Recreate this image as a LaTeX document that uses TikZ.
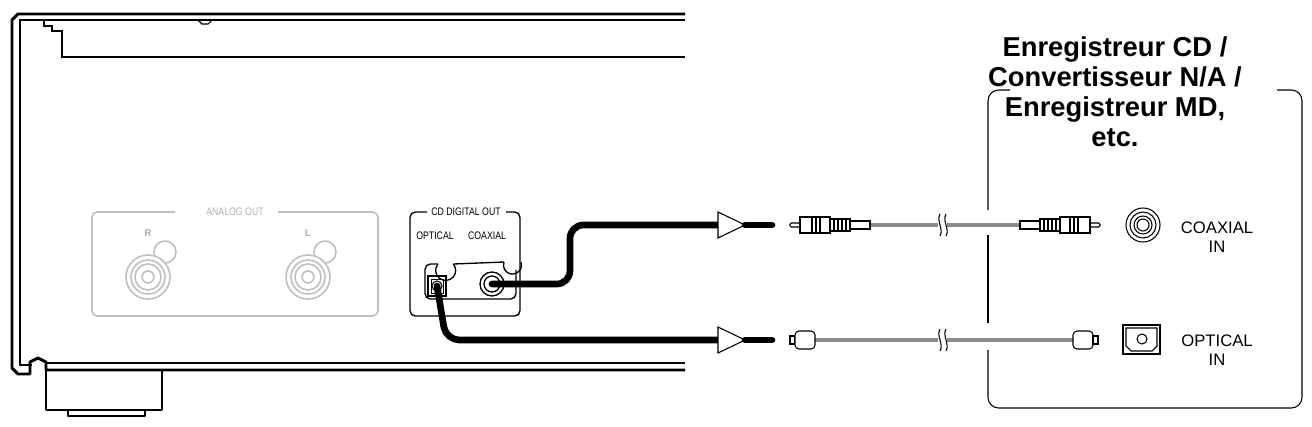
\documentclass[tikz,border=0pt]{standalone}
\usepackage{fontspec}
\setmainfont{Liberation Sans}
\newfontfamily\condf[FakeStretch=0.8]{Liberation Sans}
\begin{document}
\begin{tikzpicture}[x=0.75pt,y=-0.75pt,
  chassis/.style={line width=2.2pt,line join=round},
  thin/.style={line width=0.8pt},
  grayp/.style={draw=black!25,line width=1.2pt},
  cable/.style={line width=5pt,line cap=round,rounded corners=10pt},
  gcable/.style={draw=black!45,line width=3.6pt},
  lbl/.style={font=\fontsize{12.5}{14}\selectfont,align=center},
  plab/.style={font=\fontsize{8.2}{9}\selectfont\condf,inner sep=1pt,fill=white},
  title/.style={font=\bfseries\fontsize{20.5}{22.5}\selectfont,align=center}]
\useasboundingbox (0,0) rectangle (1312,426);
% chassis
\draw[chassis] (685,14) -- (18,14) -- (12,20) -- (12,368) -- (18,374) -- (30,374) -- (30,362) -- (38,358) -- (46,362) -- (46,370) -- (685,370);
\draw[thin] (685,20) -- (20,20) -- (20,365) -- (32,365);
\draw[line width=1pt] (685,20) -- (44,20) -- (44,26) -- (52,26) -- (52,31) -- (62,31) -- (62,57) -- (685,57);
\draw[thin] (198,20) -- (202,24) -- (208,24) -- (212,20);
\draw[line width=1.2pt] (46,363) -- (685,363);
\draw[chassis] (46,370) -- (46,410) -- (68,410) -- (68,416) -- (145,416) -- (145,410) -- (162,410) -- (162,370);
\draw[thin] (68,410) -- (145,410);
% analog out box
\draw[grayp,rounded corners=4pt] (175,212) -- (92,212) -- (92,316) -- (378,316) -- (378,212) -- (278,212);
\node[plab,text=black!30] (ana) at (235,212) {ANALOG OUT};
\node[plab,text=black!30,font=\fontsize{7.5}{8}\selectfont\bfseries] (rl) at (148,233) {R};
\node[plab,text=black!30,font=\fontsize{7.5}{8}\selectfont\bfseries] (ll) at (308,233) {L};
\foreach \cx/\nm in {148/jr,308/jl}{
  \draw[grayp] (\cx+17,252) circle (11);
  \fill[white] (\cx,277) circle (22);
  \draw[grayp] (\cx,277) circle (22);
  \draw[grayp] (\cx,277) circle (17);
  \draw[grayp] (\cx,277) circle (13);
  \draw[grayp] (\cx,277) circle (6);
  \coordinate (\nm) at (\cx,277);
}
% digital out
\draw[line width=1pt,rounded corners=4pt] (427,212) -- (410,212) -- (410,316) -- (520,316) -- (520,212) -- (506,212);
\node[plab] (cdo) at (466,212) {CD DIGITAL OUT};
\node[plab] (optl) at (435,236) {OPTICAL};
\node[plab] (coxl) at (487,236) {COAXIAL};
\draw[line width=1pt,rounded corners=4pt] (438,264) -- (425,264) -- (425,299) -- (516,299) -- (516,270);
\draw[line width=1pt] (438,264) arc (220:-40:10);
\draw[line width=1pt] (453.3,264) -- (504,262);
\draw[line width=1pt] (504,262) arc (200:-20:9);
\draw[line width=1pt] (428,276) rectangle (446,296);
\draw[line width=0.7pt] (431,279) rectangle (443,293);
\draw[line width=0.8pt] (437,286) circle (5);
\coordinate (optport) at (437,286);
\draw[line width=1pt] (492,284) circle (12);
\draw[line width=1pt] (492,284) circle (8);
\coordinate (coxport) at (492,284);
% cables
\coordinate (a1) at (722,225);
\coordinate (a2) at (722,340);
\draw[cable] (coxport) -- (570,284) -- (570,225) -- (a1);
\draw[cable] (optport) -- (446,340) -- (a2);
\foreach \y/\n in {225/t1,340/t2}{
  \draw[fill=white,line width=0.8pt] (718,\y-13) -- (745,\y) -- (718,\y+13) -- cycle;
  \draw[line width=5pt,line cap=round] (745,\y) -- (772,\y);
}
% coax cable & plugs
\draw[gcable] (870,225) -- (1020,225);
\draw[gcable] (815,340) -- (1073,340);
\foreach \y in {225,340}{
  \fill[white] (938,\y-12) rectangle (947,\y+12);
  \draw[thin] (940,\y-11) .. controls (936,\y-4) and (944,\y+4) .. (940,\y+11);
  \draw[thin] (946,\y-11) .. controls (942,\y-4) and (950,\y+4) .. (946,\y+11);
}
% left coax plug
\draw[thin,rounded corners=1pt] (790,223) rectangle (800,227);
\draw[thin] (800,217) rectangle (830,233);
\foreach \xx in {812,816,820} \draw[thin] (\xx,217) -- (\xx,233);
\draw[thin] (830,219) rectangle (850,231);
\foreach \xx in {834,838,842,846} \draw[thin] (\xx,219) -- (\xx,231);
\draw[thin] (850,221) rectangle (870,229);
% right coax plug
\draw[thin] (1020,221) rectangle (1040,229);
\draw[thin] (1040,219) rectangle (1060,231);
\foreach \xx in {1044,1048,1052,1056} \draw[thin] (\xx,219) -- (\xx,231);
\draw[thin] (1060,217) rectangle (1090,233);
\foreach \xx in {1070,1074,1078} \draw[thin] (\xx,217) -- (\xx,233);
\draw[thin,rounded corners=1pt] (1090,223) rectangle (1100,227);
% optical plugs
\draw[thin,fill=white] (790,336) rectangle (795,344);
\draw[thin,fill=white,rounded corners=3pt] (795,331) rectangle (815,349);
\draw[thin,fill=white,rounded corners=3pt] (1073,331) rectangle (1093,349);
\draw[thin,fill=white] (1093,336) rectangle (1098,344);
% device jacks
\draw[thin] (1143,225) circle (17);
\draw[thin] (1143,225) circle (13);
\draw[thin] (1143,225) circle (9);
\draw[thin] (1143,225) circle (6);
\draw[thin] (1123,325) rectangle (1160,354);
\draw[thin] (1126,328) -- (1157,328) -- (1157,346) -- (1152,351) -- (1131,351) -- (1126,346) -- cycle;
\draw[thin] (1142,339) circle (5);
\node[lbl] (cin) at (1217,237) {COAXIAL\\IN};
\node[lbl] (oin) at (1217,350) {OPTICAL\\IN};
% device box
\draw[thin,rounded corners=8pt] (1010,90) -- (988,90) -- (988,210);
\draw[thin] (988,235) -- (988,323);
\draw[thin,rounded corners=8pt] (988,350) -- (988,408) -- (1302,408) -- (1302,90) -- (1277,90);
\node[title] (ttl) at (1115,92) {Enregistreur CD /\\Convertisseur N/A /\\Enregistreur MD,\\etc.};
\end{tikzpicture}
\end{document}
